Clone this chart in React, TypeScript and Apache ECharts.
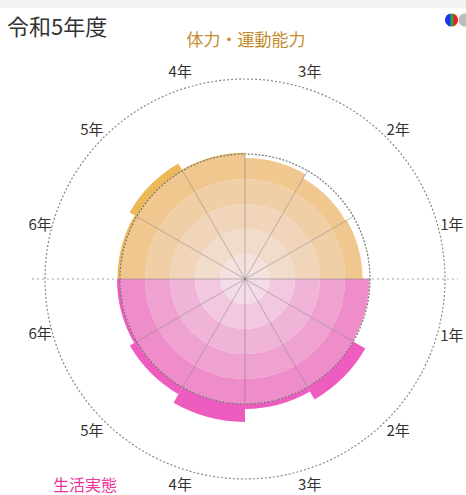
import React, { useEffect, useRef } from 'react';
import * as echarts from 'echarts';

// ---- data ----
const grades = ['1年', '2年', '3年', '4年', '5年', '6年'];
// 体力・運動能力 (upper half), 1年..6年
const fitnessScores = [47.0, 46.5, 48.4, 50.5, 53.3, 51.0];
// 生活実態 (lower half), 1年..6年
const lifeScores = [49.8, 55.6, 52.0, 57.2, 53.2, 51.2];
const bandSize = 10;
const averageScore = 50;
const maxScore = 80;

const fitnessColors = ['#F2E1DF', '#F1DBCB', '#F1D5BA', '#F0CEA6', '#F0C78F', '#EDB858'];
const lifeColors = ['#F3DBE7', '#F2C7E0', '#F0B4D8', '#EFA1D0', '#EE8DC9', '#EE5CBF'];

const titleText = '令和5年度';
const fitnessTitle = '体力・運動能力';
const lifeTitle = '生活実態';

const FONT = "'Noto Sans CJK JP', 'Noto Sans', sans-serif";
const CX = 245;
const CY = 279;
const R = 200;

// angle categories: upper half counter-clockwise 1..6, lower half 6..1
const angleKeys = [
  ...grades.map((g) => 'U' + g),
  ...grades.slice().reverse().map((g) => 'L' + g),
];
const angleValues = [...fitnessScores, ...lifeScores.slice().reverse()];
const bandCount = averageScore / bandSize;

function bandValue(v: number, b: number) {
  if (b < bandCount) return Math.max(0, Math.min(bandSize, v - b * bandSize));
  return Math.max(0, v - averageScore);
}

// per-label padding [top, right, bottom, left] to nudge labels
const labelPads = [
  [0, 0, 8, 2],
  [0, 0, 2, 0],
  [0, 0, 8, 26],
  [0, 26, 8, 0],
  [0, 0, 2, 0],
  [0, 0, 8, 0],
  [4, 0, 0, 0],
  [2, 0, 0, 0],
  [4, 26, 0, 0],
  [4, 0, 0, 26],
  [2, 0, 0, 0],
  [8, 0, 0, 2],
];

export default function App() {
  const ref = useRef<HTMLDivElement>(null);
  useEffect(() => {
    if (!ref.current) return;
    const chart = echarts.init(ref.current, undefined, { renderer: 'svg' });
    const series: any[] = [];
    for (let b = 0; b <= bandCount; b++) {
      series.push({
        type: 'bar',
        coordinateSystem: 'polar',
        polarIndex: 0,
        stack: 'score',
        barCategoryGap: '0%',
        silent: true,
        z: 2,
        data: angleValues.map((v, i) => ({
          value: bandValue(v, b),
          itemStyle: { color: (i < 6 ? fitnessColors : lifeColors)[b] },
        })),
      });
    }
    const labelBase = { fontSize: 15, color: '#333', fontFamily: FONT };
    const rich: any = {};
    labelPads.forEach((p, i) => {
      rich['p' + i] = { ...labelBase, padding: p };
    });
    chart.setOption({
      animation: false,
      textStyle: { fontFamily: FONT },
      polar: [
        { center: [CX, CY], radius: R },
        { center: [CX, CY], radius: (R * averageScore) / maxScore },
      ],
      angleAxis: [
        {
          polarIndex: 0,
          type: 'category',
          data: angleKeys,
          startAngle: 0,
          clockwise: false,
          boundaryGap: true,
          axisLine: { show: true, lineStyle: { color: '#888', type: [2, 2], width: 1.2 } },
          axisTick: { show: false },
          splitLine: { show: false },
          axisLabel: {
            interval: 0,
            margin: 0,
            ...labelBase,
            formatter: (value: string, index: number) => '{p' + index + '|' + value.slice(1) + '}',
            rich,
          },
        },
        {
          polarIndex: 1,
          type: 'category',
          data: angleKeys,
          startAngle: 0,
          clockwise: false,
          boundaryGap: true,
          z: 5,
          axisLine: { show: true, lineStyle: { color: '#777', type: [2, 1.5], width: 1.2 } },
          axisTick: { show: false },
          axisLabel: { show: false },
          splitLine: { show: true, interval: 0, lineStyle: { color: 'rgba(110,110,110,0.45)', width: 1 } },
        },
      ],
      radiusAxis: [
        { polarIndex: 0, min: 0, max: maxScore, show: false },
        { polarIndex: 1, min: 0, max: averageScore, show: false },
      ],
      series,
      graphic: [
        { type: 'rect', shape: { x: 0, y: 0, width: 466, height: 8 }, style: { fill: '#F2F2F2' }, z: 0, silent: true },
        {
          type: 'line',
          shape: { x1: CX - 213, y1: CY, x2: CX + 213, y2: CY },
          style: { stroke: '#D0D0D0', lineWidth: 2, lineDash: [2, 3] },
          z: 0,
          silent: true,
        },
        {
          type: 'text',
          x: 7,
          y: 25,
          z: 100,
          style: { text: titleText, fill: '#333', fontSize: 22, fontFamily: FONT, align: 'left', verticalAlign: 'middle' },
        },
        {
          type: 'text',
          x: 246,
          y: 38,
          z: 100,
          style: { text: fitnessTitle, fill: '#C58C2F', fontSize: 17, fontFamily: FONT, align: 'center', verticalAlign: 'middle' },
        },
        {
          type: 'text',
          x: 53,
          y: 484,
          z: 100,
          style: { text: lifeTitle, fill: '#EE3399', fontSize: 16, fontFamily: FONT, align: 'left', verticalAlign: 'middle' },
        },
        { type: 'circle', shape: { cx: 465, cy: 20, r: 6.5 }, style: { fill: '#BDBDBD' }, z: 100 },
        {
          type: 'circle',
          shape: { cx: 451.5, cy: 20, r: 6.5 },
          style: {
            fill: new echarts.graphic.LinearGradient(0, 0, 1, 0, [
              { offset: 0, color: '#2030F0' },
              { offset: 0.38, color: '#2030F0' },
              { offset: 0.45, color: '#20B040' },
              { offset: 0.6, color: '#20B040' },
              { offset: 0.68, color: '#F02020' },
              { offset: 1, color: '#F02020' },
            ]),
          },
          z: 101,
        },
      ],
    });
    return () => chart.dispose();
  }, []);
  return (
    <div
      ref={ref}
      style={{ position: 'absolute', left: 0, top: 0, width: 466, height: 495, background: '#fff' }}
    />
  );
}
